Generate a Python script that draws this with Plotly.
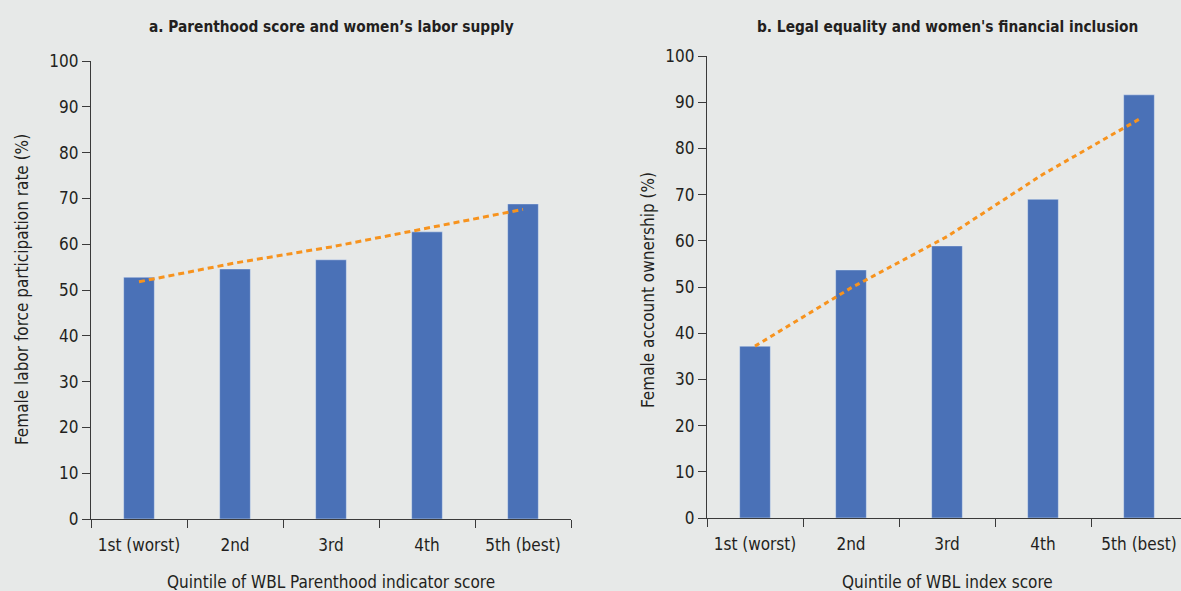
import plotly.graph_objects as go

categories = ["1st (worst)", "2nd", "3rd", "4th", "5th (best)"]
labor_participation = [52.8, 54.6, 56.6, 62.7, 68.8]
labor_trend = [51.8, 55.9, 59.4, 63.5, 67.6]
account_ownership = [37.2, 53.7, 58.9, 69.0, 91.6]
account_trend = [37.2, 49.8, 60.9, 74.4, 86.3]
y_ticks = [0, 10, 20, 30, 40, 50, 60, 70, 80, 90, 100]

title_a = "a. Parenthood score and women’s labor supply"
title_b = "b. Legal equality and women's financial inclusion"
ytitle_a = "Female labor force participation rate (%)"
ytitle_b = "Female account ownership (%)"
xtitle_a = "Quintile of WBL Parenthood indicator score"
xtitle_b = "Quintile of WBL index score"

W, H = 1181, 591
BG = "#e7e9e8"
BAR = "#4a71b7"
ORANGE = "#f7931e"
TXT = "#231f20"
AXC = "#3a3a3a"
FONT = "Liberation Sans Narrow, DejaVu Sans Condensed, Roboto Condensed, Arial Narrow, sans-serif"

fig = go.Figure()
fig.add_trace(go.Bar(x=categories, y=labor_participation, marker_color=BAR, width=0.32,
                     xaxis="x", yaxis="y", showlegend=False))
fig.add_trace(go.Scatter(x=categories, y=labor_trend, mode="lines",
                         line=dict(color=ORANGE, width=3, dash="6px,4px"),
                         xaxis="x", yaxis="y", showlegend=False))
fig.add_trace(go.Bar(x=categories, y=account_ownership, marker_color=BAR, width=0.32,
                     xaxis="x2", yaxis="y2", showlegend=False))
fig.add_trace(go.Scatter(x=categories, y=account_trend, mode="lines",
                         line=dict(color=ORANGE, width=3, dash="5px,4px"),
                         xaxis="x2", yaxis="y2", showlegend=False))

TOP, BOTTOM = 10, 11
PH = H - TOP - BOTTOM


def px_x(p):
    return p / W


def px_y(p):
    return 1 - (p - TOP) / PH


xa = dict(type="category", tickson="boundaries", ticks="outside", ticklen=8,
          tickcolor=AXC, showline=True, linecolor=AXC, linewidth=1.2,
          ticklabelstandoff=10,
          showgrid=False, zeroline=False, tickfont=dict(size=17, color=TXT, family=FONT))
ya = dict(range=[0, 100], tickvals=y_ticks, ticks="outside", ticklen=8, tickcolor=AXC,
          showline=True, linecolor=AXC, linewidth=1.2, showgrid=False, zeroline=False,
          tickfont=dict(size=17, color=TXT, family=FONT))

fig.update_layout(
    width=W, height=H,
    margin=dict(l=0, r=0, t=TOP, b=BOTTOM, autoexpand=False),
    paper_bgcolor=BG, plot_bgcolor=BG,
    font=dict(family=FONT, color=TXT),
    xaxis=dict(**xa, domain=[px_x(91), px_x(571)], anchor="y", range=[-0.5, 4.5]),
    yaxis=dict(**ya, domain=[px_y(519), px_y(61)], anchor="x"),
    xaxis2=dict(**xa, domain=[px_x(707), 1], anchor="y2", range=[-0.5, 4.4375]),
    yaxis2=dict(**ya, domain=[px_y(518), px_y(56)], anchor="x2"),
    bargap=0.68,
)

ann = [
    (title_a, 331, 27, 0, 15.3, True),
    (title_b, 947, 27, 0, 15.3, True),
    (ytitle_a, 22, 290, -90, 17, False),
    (ytitle_b, 648, 290, -90, 17, False),
    (xtitle_a, 331, 582, 0, 17, False),
    (xtitle_b, 947, 582, 0, 17, False),
]
for text, x, y, ang, size, bold in ann:
    fig.add_annotation(text=f"<b>{text}</b>" if bold else text, x=px_x(x), y=px_y(y),
                       xref="paper", yref="paper", showarrow=False, textangle=ang,
                       xanchor="center", yanchor="middle",
                       font=dict(size=size, color=TXT, family=FONT))

fig.write_html("out.html", config={"displayModeBar": False},
               post_script="document.body.style.margin='0';document.body.style.padding='0';")
